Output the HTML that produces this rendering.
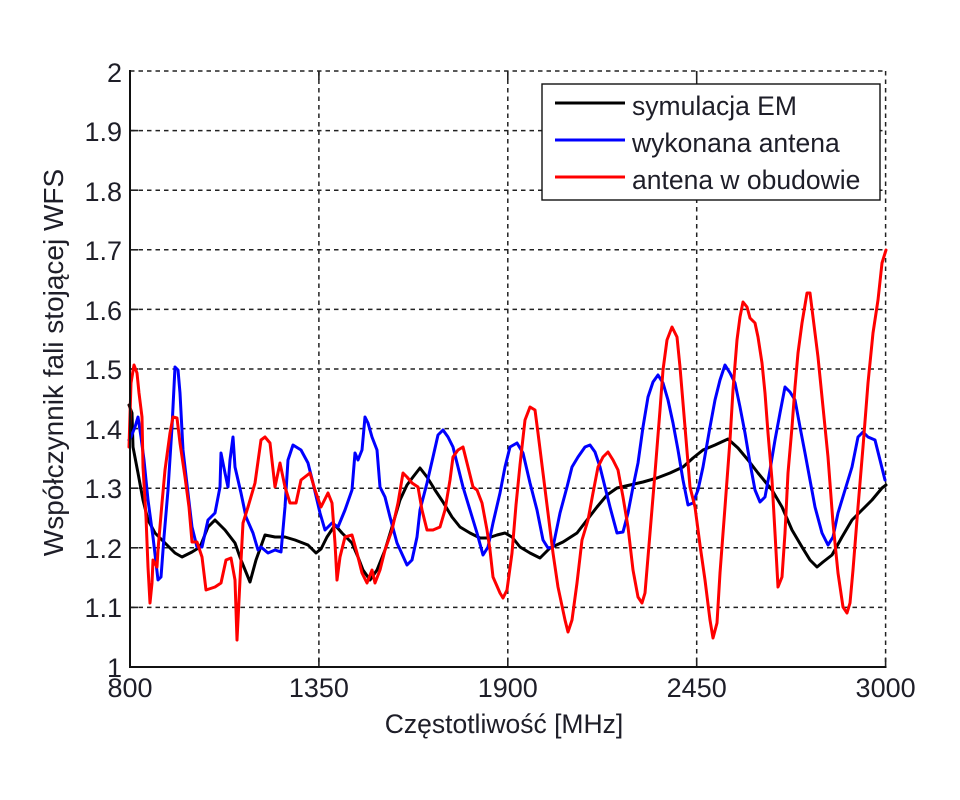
<!DOCTYPE html>
<html><head><meta charset="utf-8"><style>
html,body{margin:0;padding:0;background:#fff;}
svg{display:block;}
text{font-family:"Liberation Sans",Arial,sans-serif;fill:#1e1e28;}
</style></head><body>
<svg width="960" height="800" viewBox="0 0 960 800" xmlns="http://www.w3.org/2000/svg">
<rect width="960" height="800" fill="#fff"/>
<!-- grid -->
<g stroke="#222" stroke-width="1.5" stroke-dasharray="4.5 4" fill="none">
<line x1="130" y1="71" x2="886" y2="71"/>
<line x1="130" y1="130.6" x2="886" y2="130.6"/>
<line x1="130" y1="190.2" x2="886" y2="190.2"/>
<line x1="130" y1="249.8" x2="886" y2="249.8"/>
<line x1="130" y1="309.4" x2="886" y2="309.4"/>
<line x1="130" y1="369" x2="886" y2="369"/>
<line x1="130" y1="428.6" x2="886" y2="428.6"/>
<line x1="130" y1="488.2" x2="886" y2="488.2"/>
<line x1="130" y1="547.8" x2="886" y2="547.8"/>
<line x1="130" y1="607.4" x2="886" y2="607.4"/>
<line x1="318.9" y1="71" x2="318.9" y2="667"/>
<line x1="507.8" y1="71" x2="507.8" y2="667"/>
<line x1="696.7" y1="71" x2="696.7" y2="667"/>
<line x1="885.6" y1="71" x2="885.6" y2="667"/>
</g>
<!-- ticks -->
<g stroke="#222" stroke-width="1.6">
<line x1="318.9" y1="667" x2="318.9" y2="658"/><line x1="507.8" y1="667" x2="507.8" y2="658"/><line x1="696.7" y1="667" x2="696.7" y2="658"/><line x1="885.6" y1="667" x2="885.6" y2="658"/>
<line x1="318.9" y1="71" x2="318.9" y2="80"/><line x1="507.8" y1="71" x2="507.8" y2="80"/><line x1="696.7" y1="71" x2="696.7" y2="80"/>
<line x1="130" y1="130.6" x2="138" y2="130.6"/><line x1="130" y1="190.2" x2="138" y2="190.2"/><line x1="130" y1="249.8" x2="138" y2="249.8"/><line x1="130" y1="309.4" x2="138" y2="309.4"/><line x1="130" y1="369" x2="138" y2="369"/><line x1="130" y1="428.6" x2="138" y2="428.6"/><line x1="130" y1="488.2" x2="138" y2="488.2"/><line x1="130" y1="547.8" x2="138" y2="547.8"/><line x1="130" y1="607.4" x2="138" y2="607.4"/>
</g>
<!-- series -->
<g fill="none" stroke-width="3" stroke-linejoin="round" stroke-linecap="round">
<polyline stroke="#000" points="129,405 132,413 133,447 138,473 143,500 148,520 155,533 165,543 175,553 182,557 192,552 200,547 208,527 215,520 225,530 235,543 241,560 250,582 256,560 265,535 275,537 285,537 295,540 308,545 316,553 321,549 327,537 335,525 342,533 352,543 358,557 363,570 370,580 377,570 385,550 392,527 400,500 407,485 413,477 420,468 427,477 435,490 443,502 452,517 460,527 470,533 480,538 488,538 497,535 505,533 512,537 520,547 530,553 540,558 550,548 563,542 577,533 587,520 597,507 607,495 617,488 630,485 643,482 657,478 670,473 683,467 693,458 703,450 715,445 728,439 738,448 748,460 758,473 772,490 782,507 792,530 802,547 810,560 817,567 823,562 832,555 842,537 852,520 862,510 872,500 882,488 886,485"/>
<polyline stroke="#0000ff" points="129,440 131,437 135,427 138,417 141,437 144,460 148,500 153,537 158,580 161,577 164,537 168,490 172,427 175,367 178,370 180,393 183,450 188,493 192,527 197,547 202,547 208,520 215,513 220,487 221,453 225,473 228,487 230,460 233,437 235,467 241,493 246,517 253,533 258,550 261,547 268,553 275,550 281,552 285,507 288,460 293,445 301,450 308,463 313,483 320,513 325,530 332,523 338,527 345,510 352,490 355,453 358,460 362,450 365,417 368,423 372,437 377,450 380,487 385,497 390,517 397,543 407,565 412,560 417,537 420,510 427,483 433,457 438,435 443,430 448,437 453,447 458,467 463,487 470,510 477,533 483,555 488,547 493,523 500,493 505,467 510,447 517,443 523,453 530,483 537,510 543,540 548,548 553,547 560,513 567,487 572,467 578,457 585,447 590,445 595,452 600,467 605,487 610,507 617,533 623,532 628,513 633,487 638,463 643,427 648,397 653,382 658,375 663,383 668,400 673,423 678,450 683,480 688,505 693,503 698,490 703,467 710,427 715,400 720,380 725,365 730,373 735,383 740,407 745,433 750,463 755,490 760,502 765,497 770,470 775,440 780,413 785,387 790,392 795,400 800,427 805,453 810,480 815,507 822,533 828,545 833,537 838,513 845,490 852,467 858,437 863,432 868,437 875,440 880,460 885,480"/>
<polyline stroke="#ff0000" points="129,447 131,383 134,365 137,373 139,393 142,417 143,467 146,517 148,567 150,603 152,583 153,560 157,567 158,550 162,503 165,470 170,433 173,417 177,418 180,443 185,477 189,507 192,542 197,542 202,557 206,590 215,587 221,583 226,560 231,558 235,580 237,640 240,580 243,523 248,507 255,483 261,440 265,437 270,443 275,487 280,463 285,487 290,503 296,503 301,480 310,473 315,490 321,507 328,493 332,503 335,543 337,580 340,557 345,537 352,535 357,553 362,573 367,583 372,570 375,583 380,570 385,550 392,530 398,503 403,473 407,477 412,483 418,487 422,510 427,530 433,530 440,527 445,510 450,480 453,457 458,450 463,447 468,467 473,487 477,490 482,503 487,530 490,550 493,577 500,593 503,598 507,590 512,553 516,505 520,465 525,420 530,407 535,410 538,433 543,473 548,513 553,553 558,587 565,620 568,632 572,620 577,583 582,540 588,520 593,493 598,467 603,457 608,452 613,460 618,470 623,497 628,527 633,570 638,597 642,603 645,593 650,533 655,473 660,410 663,370 667,340 672,327 677,337 680,367 685,427 690,487 695,507 700,545 705,580 710,620 713,638 717,623 720,573 725,507 730,440 733,390 737,340 740,317 743,302 747,307 750,318 755,323 758,337 762,363 765,393 768,433 772,480 775,533 778,587 782,577 785,533 788,473 792,427 795,387 798,353 802,323 807,293 810,293 813,317 818,357 823,407 828,457 833,523 838,573 843,607 847,613 850,603 853,570 858,507 863,447 868,383 873,333 878,300 882,263 886,250"/>
</g>
<!-- axes -->
<g stroke="#111" stroke-width="2" fill="none">
<line x1="130" y1="70" x2="130" y2="668"/>
<line x1="129" y1="667" x2="886.5" y2="667"/>
</g>
<!-- legend -->
<rect x="542" y="84" width="338" height="116" fill="#fff" stroke="#111" stroke-width="1.4"/>
<g stroke-width="3">
<line x1="555" y1="103" x2="625" y2="103" stroke="#000"/>
<line x1="555" y1="140" x2="625" y2="140" stroke="#0000ff"/>
<line x1="555" y1="177" x2="625" y2="177" stroke="#ff0000"/>
</g>
<g font-size="26.5">
<text x="632" y="115">symulacja EM</text>
<text x="632" y="152">wykonana antena</text>
<text x="632" y="189">antena w obudowie</text>
</g>
<!-- y tick labels -->
<g font-size="27" text-anchor="end">
<text x="122" y="82">2</text>
<text x="122" y="141">1.9</text>
<text x="122" y="201">1.8</text>
<text x="122" y="260">1.7</text>
<text x="122" y="320">1.6</text>
<text x="122" y="379">1.5</text>
<text x="122" y="439">1.4</text>
<text x="122" y="498">1.3</text>
<text x="122" y="558">1.2</text>
<text x="122" y="617">1.1</text>
<text x="122" y="677">1</text>
</g>
<!-- x tick labels -->
<g font-size="27" text-anchor="middle">
<text x="130" y="697">800</text>
<text x="318.9" y="697">1350</text>
<text x="507.8" y="697">1900</text>
<text x="696.7" y="697">2450</text>
<text x="885.6" y="697">3000</text>
</g>
<text x="504" y="733" font-size="26.5" text-anchor="middle">Częstotliwość [MHz]</text>
<text transform="translate(63,362.5) rotate(-90)" x="0" y="0" font-size="28" text-anchor="middle">Współczynnik fali stojącej WFS</text>
</svg>
</body></html>
